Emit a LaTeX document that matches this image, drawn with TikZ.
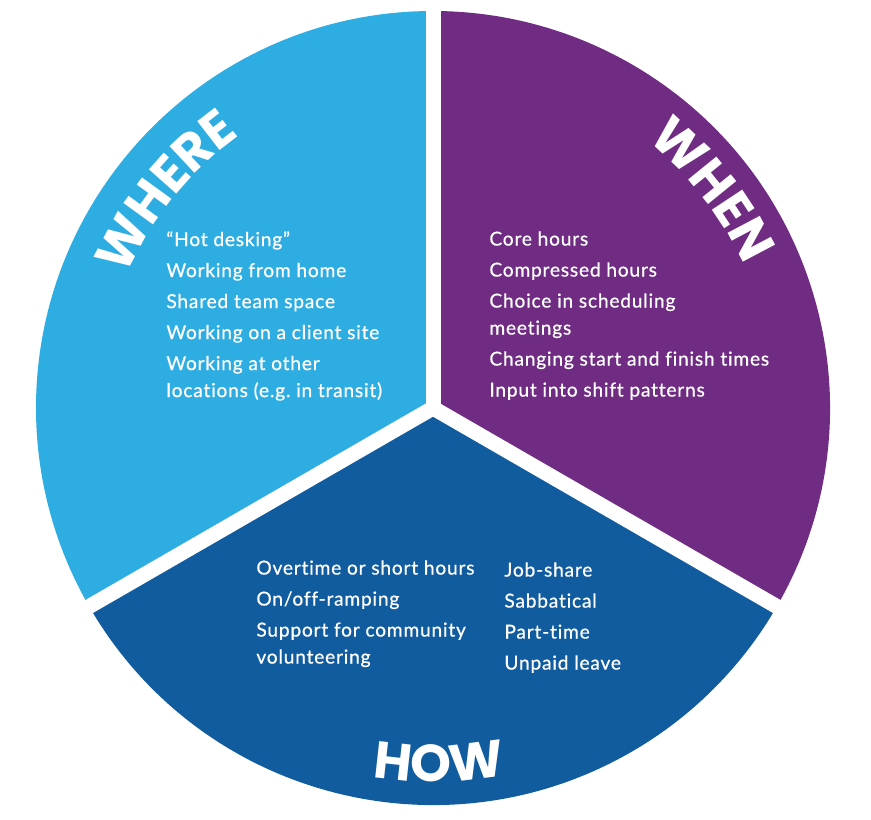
\documentclass[tikz,border=0pt]{standalone}
\usepackage{fontspec}
\setmainfont{Lato}
\newfontfamily\listfont{Lato}[LetterSpace=4,FakeBold=0.6,Ligatures=NoCommon]
\newfontfamily\headfont{Poppins}
\usetikzlibrary{decorations.text}
\definecolor{whereblue}{RGB}{46,173,226}
\definecolor{whenpurple}{RGB}{112,43,130}
\definecolor{howblue}{RGB}{17,92,158}
\tikzset{
  itemlist/.style={align=left,anchor=north west,inner sep=0pt,text=white,
    font=\listfont\fontsize{9.6}{13.5}\selectfont},
  heading/.style={decorate,decoration={text along path,text align=center,
    text color=white,text={|\headfont\bfseries\fontsize{26}{26}\selectfont|#1}}}
}

\begin{document}
\begin{tikzpicture}[x=0.5pt,y=0.5pt]
        \useasboundingbox (-433,-411) rectangle (438,408);
        \coordinate (c) at (0,0); % centre of the pie

        % Three sectors
        \fill[whereblue] (c) -- (90:397) arc[start angle=90,end angle=210,radius=397] -- cycle;
        \fill[whenpurple] (c) -- (-30:397) arc[start angle=-30,end angle=90,radius=397] -- cycle;
        \fill[howblue] (c) -- (210:397) arc[start angle=210,end angle=330,radius=397] -- cycle;

        % White gaps between the sectors
        \draw[white,line width=7.5pt] (c) -- (90:410);
        \draw[white,line width=7.5pt] (c) -- (210:410);
        \draw[white,line width=7.5pt] (c) -- (330:410);

        % Curved headings
        \path[heading=WHERE] (168:334) arc[start angle=168,end angle=114,radius=334];
        \path[heading=WHEN] (64:342) arc[start angle=64,end angle=12,radius=342];
        \path[heading=HOW] (-115:374) arc[start angle=-115,end angle=-63,radius=374];

        % Lists
        \node[itemlist] (whereList) at (-267,177) {“Hot desking”\\[2pt]
          Working from home\\[2pt]
          Shared team space\\[2pt]
          Working on a client site\\[2pt]
          Working at other\\
          locations (e.g.\ in transit)};
        \node[itemlist] (whenList) at (56,177) {Core hours\\[2pt]
          Compressed hours\\[2pt]
          Choice in scheduling\\
          meetings\\[2pt]
          Changing start and finish times\\[2pt]
          Input into shift patterns};
        \node[itemlist] (howLeft) at (-177,-152) {Overtime or short hours\\[2pt]
          On/off-ramping\\[2pt]
          Support for community\\
          volunteering};
        \node[itemlist] (howRight) at (71,-154) {Job-share\\[2pt]
          Sabbatical\\[2pt]
          Part-time\\[2pt]
          Unpaid leave};
    \end{tikzpicture}
\end{document}
